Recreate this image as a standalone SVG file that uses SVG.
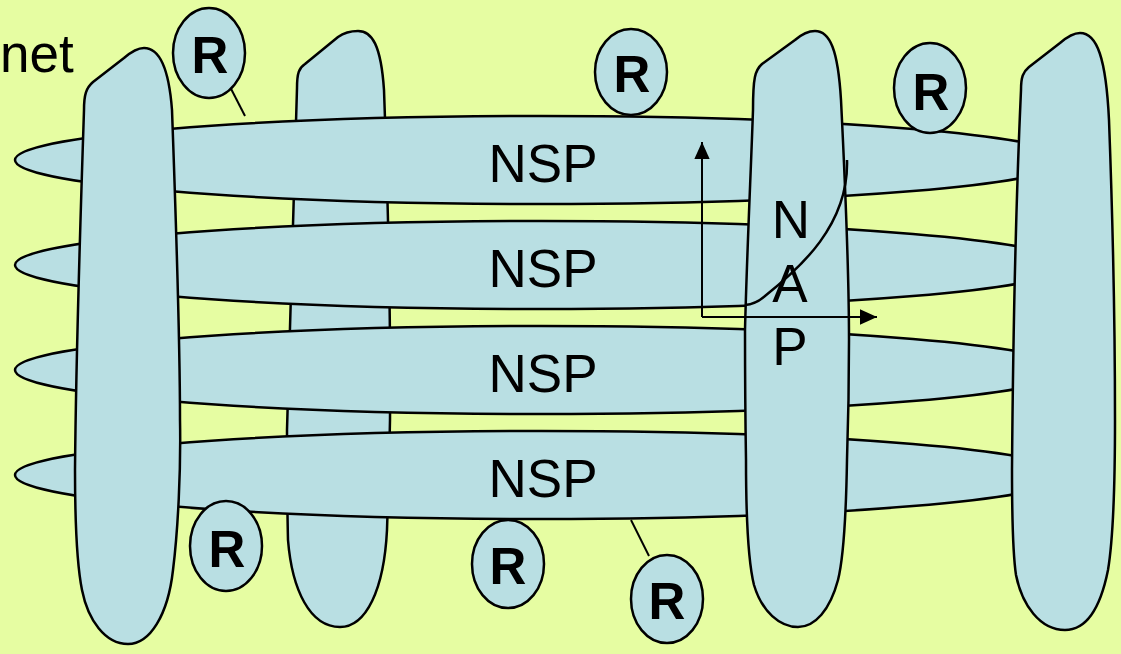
<svg xmlns="http://www.w3.org/2000/svg" width="1121" height="654" viewBox="0 0 1121 654">
<defs>
<style>
.sh{fill:#B9DFE3;stroke:#000;stroke-width:2.5;stroke-linejoin:round}
.ln{fill:none;stroke:#000;stroke-width:2}
.lb{font-family:"Liberation Sans",Arial,sans-serif;font-size:53px;fill:#000;text-anchor:middle}
.rt{font-family:"Liberation Sans",Arial,sans-serif;font-size:51px;font-weight:bold;fill:#000;text-anchor:middle}
</style>
<marker id="ah" viewBox="0 0 10 10" refX="10" refY="5" markerWidth="17" markerHeight="17" markerUnits="userSpaceOnUse" orient="auto">
<path d="M0,0.5 L10,5 L0,9.5 Z" fill="#000"/>
</marker>
</defs>
<rect x="0" y="0" width="1121" height="654" fill="#E6FDA2"/>
<text x="0" y="72" class="lb" style="text-anchor:start">net</text>
<g id="backbone2">
<path class="sh" d="M 297,88 C 297,73 299,68 305,64 L 338,37 C 345,32 351,31 358,31 C 372,31 381,45 384,90 C 388,200 391,300 390,420 C 389,470 388,500 387,530 C 384,590 366,627 340,627 C 310,627 292,590 288,540 C 287,500 287,460 287,430 Z"/>
</g>
<g id="nsp1">
<ellipse class="sh" cx="541" cy="160" rx="526" ry="44"/>
<text class="lb" x="543" y="182">NSP</text>
</g>
<g id="nsp2">
<ellipse class="sh" cx="541" cy="265" rx="526" ry="44"/>
<text class="lb" x="543" y="287">NSP</text>
</g>
<g id="nsp3">
<ellipse class="sh" cx="541" cy="370" rx="526" ry="44"/>
<text class="lb" x="543" y="392">NSP</text>
</g>
<g id="nsp4">
<ellipse class="sh" cx="541" cy="475" rx="526" ry="44"/>
<text class="lb" x="543" y="497">NSP</text>
</g>
<g id="backbone1">
<path class="sh" d="M 84,110 C 84,95 86,88 93,82 L 124,58 C 131,52 137,48 144,48 C 160,48 169,70 172,110 C 176,220 180,330 180,420 C 181,470 178,530 173,570 C 168,615 150,644 128,644 C 105,644 88,620 82,590 C 77,565 75,520 75,470 C 76,350 80,230 84,110 Z"/>
</g>
<g id="nap">
<path class="sh" d="M 753,110 C 753,78 755,70 762,64 L 795,40 C 802,34 808,31 815,31 C 830,31 838,50 841,100 C 845,180 849,260 849,340 C 849,400 848,430 847,460 C 846,520 843,560 838,580 C 830,610 815,627 798,627 C 780,627 762,612 754,585 C 749,565 746,520 746,460 C 745,400 745,360 745,330 C 747,250 751,170 753,110 Z"/>
<path class="ln" d="M 847,160 C 849,225 800,268 765,296 Q 756,304 745,305" style="stroke-width:2.5"/>
<text class="lb" x="791" y="238">N</text>
<text class="lb" x="790" y="302">A</text>
<text class="lb" x="790" y="365">P</text>
</g>
<g id="backbone4">
<path class="sh" d="M 1021,90 C 1021,77 1023,72 1029,67 L 1060,43 C 1067,37 1073,33 1080,33 C 1097,33 1106,58 1109,120 C 1112,200 1115,300 1115,420 C 1115,480 1113,540 1108,570 C 1100,610 1085,630 1065,630 C 1040,630 1022,605 1016,575 C 1013,555 1012,520 1012,470 C 1013,340 1016,200 1021,90 Z"/>
</g>
<g id="connectors">
<line class="ln" x1="226" y1="79" x2="245" y2="116"/>
<line class="ln" x1="631" y1="520" x2="649" y2="556"/>
<path class="ln" d="M 702,317 L 702,142" marker-end="url(#ah)"/>
<path class="ln" d="M 702,317 L 877,317" marker-end="url(#ah)"/>
</g>
<g id="r1"><ellipse class="sh" cx="209" cy="53" rx="36" ry="45"/><text class="rt" x="210" y="73">R</text></g>
<g id="r2"><ellipse class="sh" cx="631" cy="72" rx="36" ry="43"/><text class="rt" x="632" y="92">R</text></g>
<g id="r3"><ellipse class="sh" cx="930" cy="88" rx="36" ry="45"/><text class="rt" x="931" y="110">R</text></g>
<g id="r4"><ellipse class="sh" cx="226" cy="546" rx="36" ry="45"/><text class="rt" x="227" y="567">R</text></g>
<g id="r5"><ellipse class="sh" cx="508" cy="564" rx="36" ry="44"/><text class="rt" x="508" y="584">R</text></g>
<g id="r6"><ellipse class="sh" cx="667" cy="599" rx="36" ry="44"/><text class="rt" x="667" y="619">R</text></g>
</svg>
